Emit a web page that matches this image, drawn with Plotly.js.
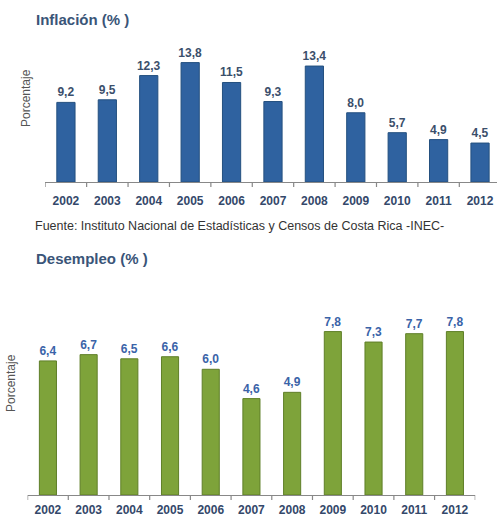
<!DOCTYPE html>
<html><head><meta charset="utf-8">
<script src="https://cdn.plot.ly/plotly-3.0.1.min.js"></script>
<style>html,body{margin:0;padding:0;background:#fff}#c{width:497px;height:517px}</style>
</head><body><div id="c"></div>
<script>
const years = ['2002','2003','2004','2005','2006','2007','2008','2009','2010','2011','2012'];
const inflacion = [9.2, 9.5, 12.3, 13.8, 11.5, 9.3, 13.4, 8.0, 5.7, 4.9, 4.5];
const desempleo = [6.4, 6.7, 6.5, 6.6, 6.0, 4.6, 4.9, 7.8, 7.3, 7.7, 7.8];
const fmt = v => v.toFixed(1).replace('.', ',');

const font = 'Liberation Sans, Arial, sans-serif';
const traces = [
  {type:'bar', x:years, y:inflacion, xaxis:'x', yaxis:'y', width:0.44,
   marker:{color:'#2f62a0', line:{color:'#24507f', width:1}},
   text:inflacion.map(fmt), textposition:'outside', cliponaxis:false, constraintext:'none',
   textfont:{family:font, size:12, color:'#3b4f6b', weight:'bold'}, hoverinfo:'none'},
  {type:'bar', x:years, y:desempleo, xaxis:'x2', yaxis:'y2', width:0.42,
   marker:{color:'#7ea33a', line:{color:'#5f7f28', width:1}},
   text:desempleo.map(fmt), textposition:'outside', cliponaxis:false, constraintext:'none',
   textfont:{family:font, size:12, color:'#3a63a8', weight:'bold'}, hoverinfo:'none'}
];
const xcommon = {type:'category', showgrid:false, showline:true, linecolor:'#888', linewidth:1.5,
  ticks:'outside', ticklen:7, tickcolor:'rgba(0,0,0,0)', tickfont:{family:font, size:12, color:'#34486a', weight:'bold'}, fixedrange:true};
const layout = {
  width:497, height:517, margin:{l:0,r:0,t:0,b:0}, showlegend:false,
  paper_bgcolor:'#fff', plot_bgcolor:'#fff', bargap:0.5,
  xaxis:Object.assign({}, xcommon, {domain:[0.091,1], range:[-0.5,10.41], anchor:'y'}),
  yaxis:{domain:[0.648,0.899], range:[0,15], visible:false, fixedrange:true, anchor:'x'},
  xaxis2:Object.assign({}, xcommon, {domain:[0.0555,0.9563], range:[-0.5,10.5], anchor:'y2', ticklen:3}),
  yaxis2:{domain:[0.0426,0.387], range:[0,8.5], visible:false, fixedrange:true, anchor:'x2'},
  annotations:[
    {xref:'paper', yref:'paper', x:34/497, y:1-20/517, xanchor:'left', yanchor:'middle', showarrow:false,
     text:'<b>Inflación (% )</b>', font:{family:font, size:15, color:'#3a5578'}},
    {xref:'paper', yref:'paper', x:33/497, y:1-226/517, xanchor:'left', yanchor:'middle', showarrow:false,
     text:'Fuente: Instituto Nacional de Estadísticas y Censos de Costa Rica -INEC-', font:{family:font, size:12.5, color:'#333'}},
    {xref:'paper', yref:'paper', x:34/497, y:1-258/517, xanchor:'left', yanchor:'middle', showarrow:false,
     text:'<b>Desempleo (% )</b>', font:{family:font, size:15, color:'#3a5578'}},
    {xref:'paper', yref:'paper', x:26/497, y:1-98/517, xanchor:'center', yanchor:'middle', showarrow:false, textangle:-90,
     text:'Porcentaje', font:{family:font, size:12, color:'#555'}},
    {xref:'paper', yref:'paper', x:11/497, y:1-383/517, xanchor:'center', yanchor:'middle', showarrow:false, textangle:-90,
     text:'Porcentaje', font:{family:font, size:12, color:'#555'}}
  ],
  shapes: []
};
// category boundary ticks
for (let i = 0; i <= 11; i++) {
  layout.shapes.push({type:'line', xref:'x', yref:'paper', x0:i-0.5, x1:i-0.5, y0:0.648, y1:0.648-5/517, line:{color:'#888', width:1.2}});
  layout.shapes.push({type:'line', xref:'x2', yref:'paper', x0:i-0.5, x1:i-0.5, y0:0.0426, y1:0.0426-5/517, line:{color:'#888', width:1.2}});
}
Plotly.newPlot('c', traces, layout, {displayModeBar:false, staticPlot:true});
</script></body></html>
